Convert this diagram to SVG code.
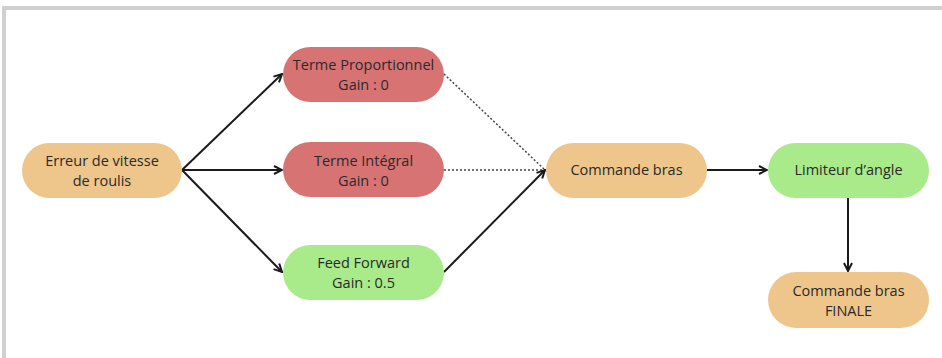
<svg xmlns="http://www.w3.org/2000/svg" width="942" height="358" viewBox="0 0 942 358">
<style>
.n{stroke:none}
.o{fill:#eec68b}
.r{fill:#d87373}
.g{fill:#a9ea8b}
text{font-family:"Open Sans","Noto Sans",sans-serif;font-size:14.5px;fill:#2a2a2a;text-anchor:middle}
.c{fill:none;stroke:#1a1a1a;stroke-width:2}
.d{fill:none;stroke:#444;stroke-width:1.5;stroke-dasharray:2 2}
</style>
<defs>
<marker id="a" viewBox="0 0 10 10" refX="9" refY="5" markerWidth="10" markerHeight="10" markerUnits="userSpaceOnUse" orient="auto">
<path d="M1,1 L9,5 L1,9" fill="none" stroke="#1a1a1a" stroke-width="2"/>
</marker>
</defs>
<rect x="0" y="0" width="942" height="358" fill="#ffffff"/>
<path d="M4,358 V8 H942" fill="none" stroke="#d0d0d0" stroke-width="4"/>
<g id="connectors">
<line class="c" x1="182" y1="170" x2="282" y2="74" marker-end="url(#a)"/>
<line class="c" x1="182" y1="170" x2="282" y2="170" marker-end="url(#a)"/>
<line class="c" x1="182" y1="170" x2="282" y2="272" marker-end="url(#a)"/>
<line class="d" x1="444" y1="74" x2="545" y2="170"/>
<line class="d" x1="444" y1="170" x2="545" y2="170"/>
<line class="c" x1="444" y1="272" x2="545" y2="170" marker-end="url(#a)"/>
<line class="c" x1="707" y1="170" x2="767" y2="170" marker-end="url(#a)"/>
<line class="c" x1="848" y1="198" x2="848" y2="271" marker-end="url(#a)"/>
</g>
<g id="erreur"><rect class="n o" x="22" y="143" width="160" height="55" rx="27.5"/><text x="102" y="166">Erreur de vitesse</text><text x="102" y="186">de roulis</text></g>
<g id="prop"><rect class="n r" x="283" y="47" width="161" height="55" rx="27.5"/><text x="363.5" y="70">Terme Proportionnel</text><text x="363.5" y="90">Gain : 0</text></g>
<g id="integral"><rect class="n r" x="283" y="142" width="161" height="55" rx="27.5"/><text x="363.5" y="166">Terme Intégral</text><text x="363.5" y="186">Gain : 0</text></g>
<g id="ff"><rect class="n g" x="283" y="245" width="161" height="55" rx="27.5"/><text x="363.5" y="268">Feed Forward</text><text x="363.5" y="288">Gain : 0.5</text></g>
<g id="cmd"><rect class="n o" x="546" y="143" width="161" height="55" rx="27.5"/><text x="626.5" y="175">Commande bras</text></g>
<g id="lim"><rect class="n g" x="768" y="143" width="161" height="55" rx="27.5"/><text x="848.5" y="175">Limiteur d’angle</text></g>
<g id="final"><rect class="n o" x="768" y="272" width="161" height="56" rx="28"/><text x="848.5" y="296">Commande bras</text><text x="848.5" y="316">FINALE</text></g>
</svg>
